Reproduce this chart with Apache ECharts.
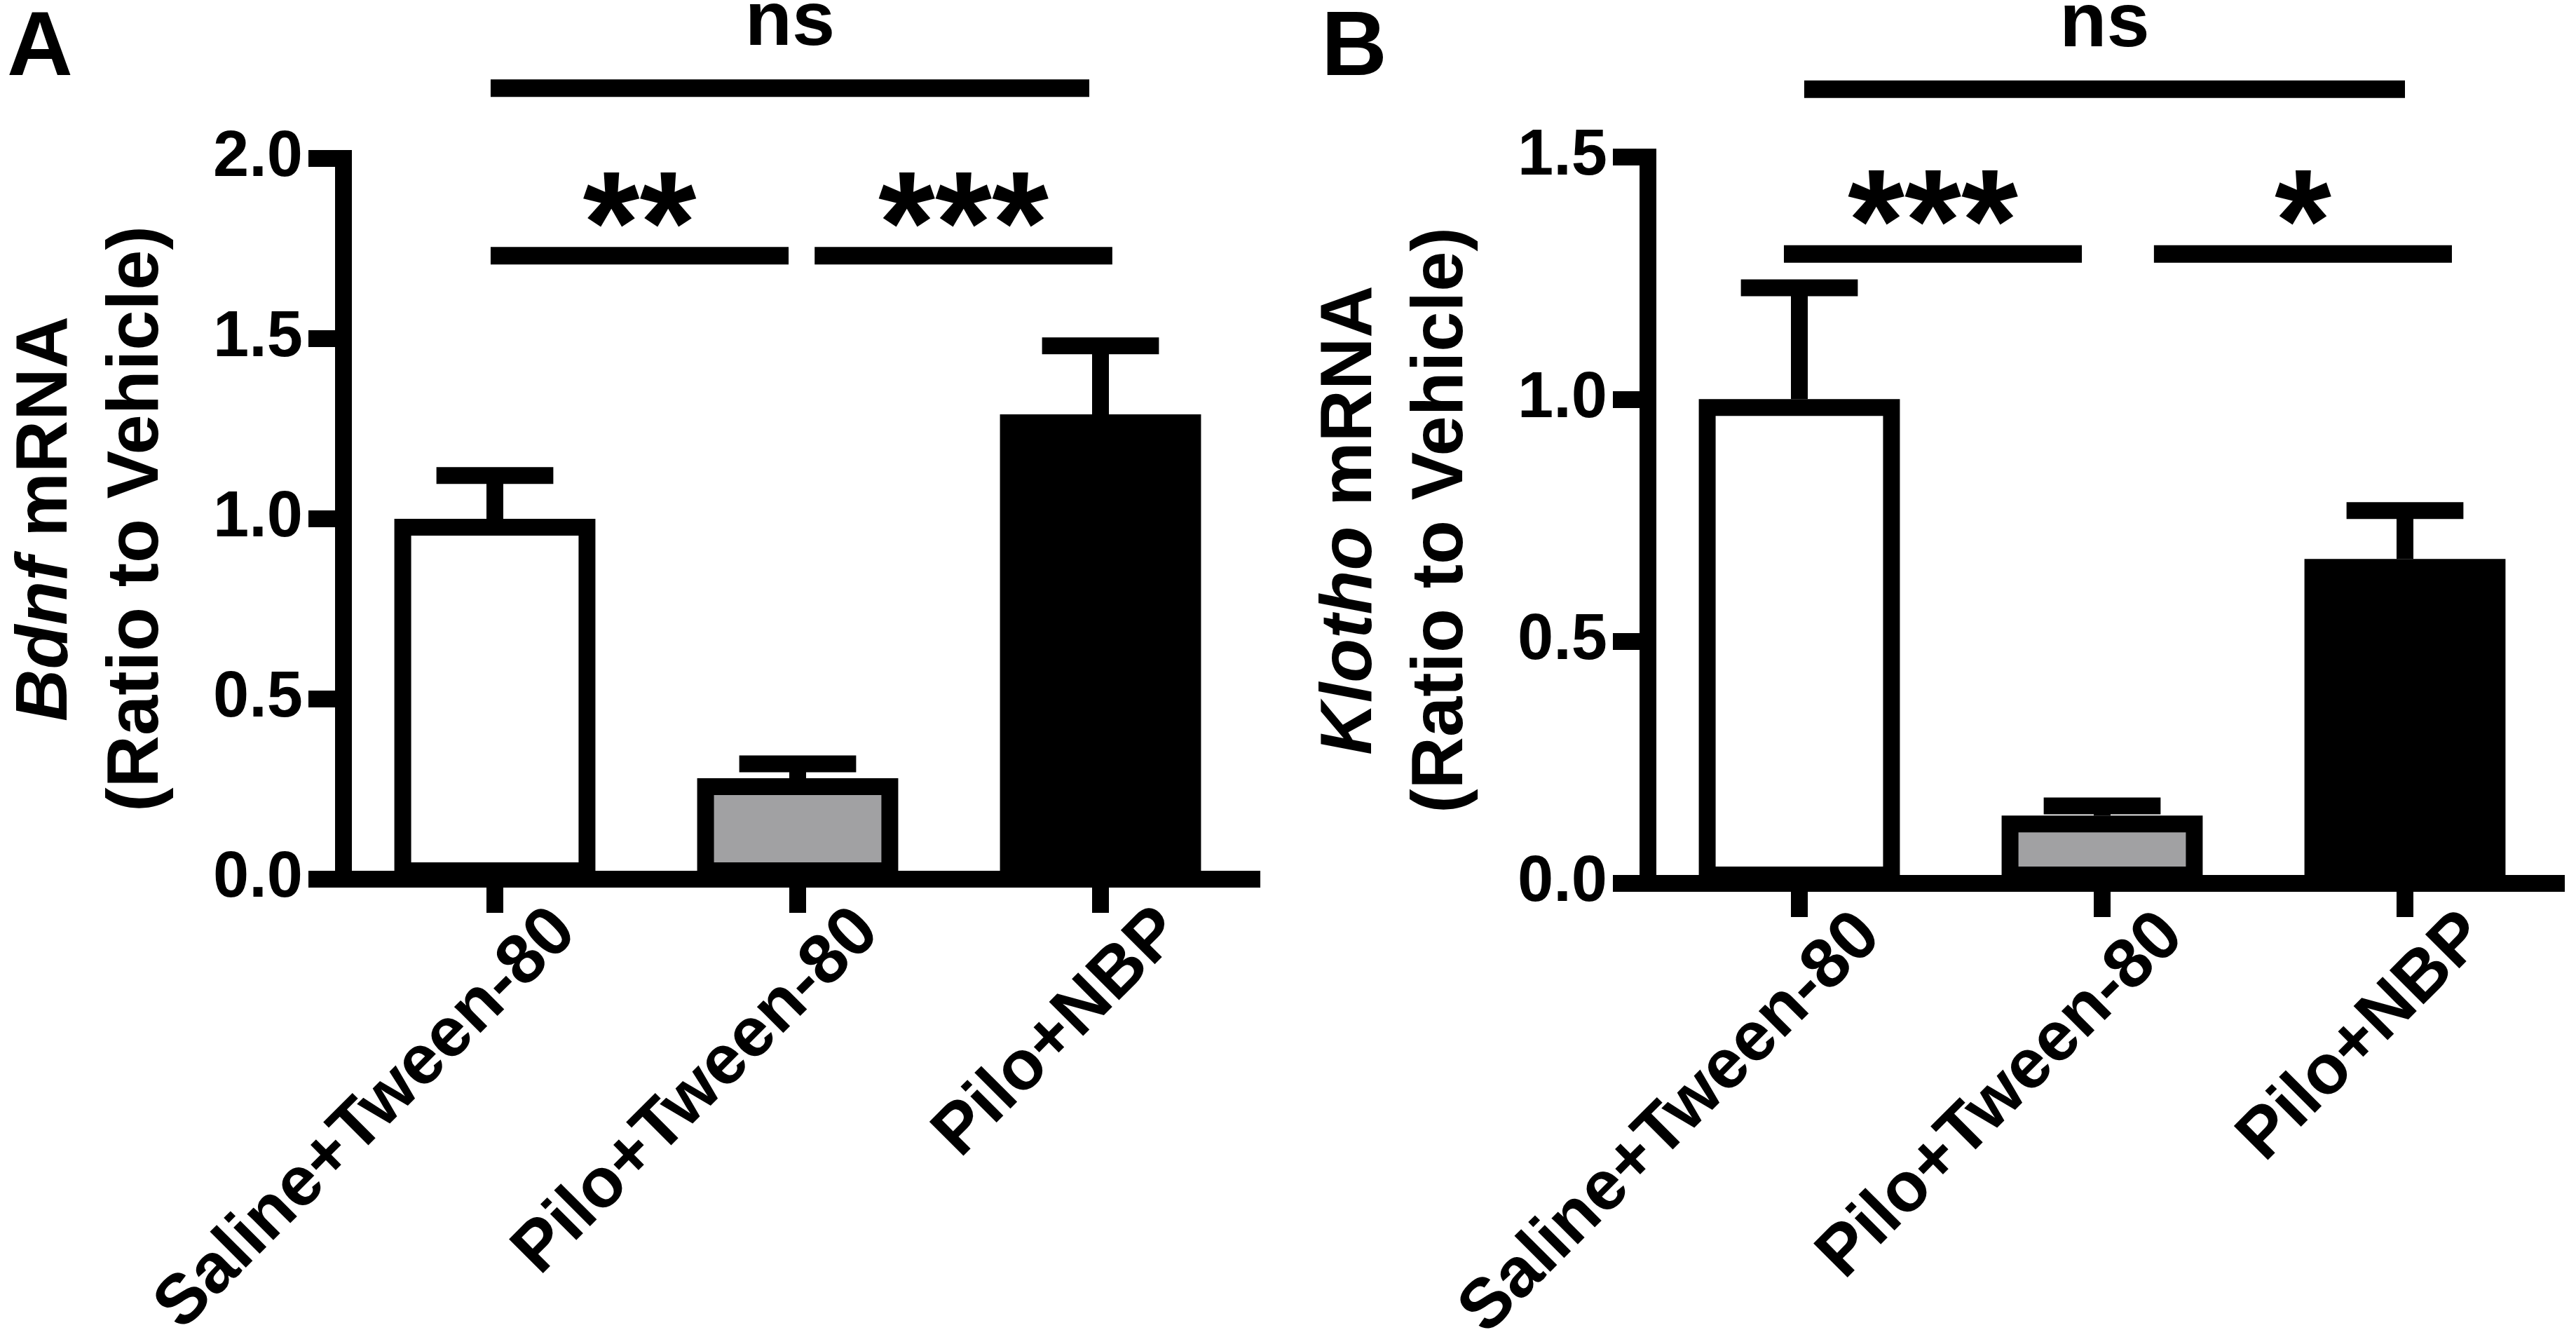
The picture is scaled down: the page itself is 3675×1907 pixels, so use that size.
<!DOCTYPE html>
<html>
<head>
<meta charset="utf-8">
<title>Bdnf / Klotho mRNA</title>
<script src="https://cdn.jsdelivr.net/npm/echarts@6/dist/echarts.min.js"></script>
<style>
  html, body { margin: 0; padding: 0; background: #fff; }
  #main { width: 3675px; height: 1907px; }
</style>
</head>
<body>
<div id="main"></div>
<script>
// groups on the x axis (same in both panels)
var groups = ['Saline+Tween-80', 'Pilo+Tween-80', 'Pilo+NBP'];
var barColors = ['#ffffff', '#a1a1a3', '#000000'];

// panel A - Bdnf
var bdnfMean = [1.00, 0.28, 1.29];
var bdnfSem = [0.12, 0.04, 0.19];
var bdnfTicks = [0, 0.5, 1.0, 1.5, 2.0];
// significance bars: text, start / end (in category units), height
var bdnfSigText = ['ns', '**', '***'];
var bdnfSigFrom = [-0.014, -0.014, 1.056];
var bdnfSigTo = [1.963, 0.970, 2.039];
var bdnfSigY = [2.195, 1.73, 1.73];

// panel B - Klotho
var klothoMean = [1.00, 0.14, 0.67];
var klothoSem = [0.23, 0.02, 0.10];
var klothoTicks = [0, 0.5, 1.0, 1.5];
var klothoSigText = ['ns', '***', '*'];
var klothoSigFrom = [0.016, -0.051, 1.171];
var klothoSigTo = [2.0, 0.933, 2.155];
var klothoSigY = [1.64, 1.30, 1.30];

var FONT = '"Liberation Sans", Arial, Helvetica, sans-serif';
var LW = 24;

function makeXAxis(gi) {
    return {
        type: 'category',
        gridIndex: gi,
        data: groups,
        axisLine: { show: true, lineStyle: { color: '#000', width: LW, cap: 'square' } },
        axisTick: { show: true, alignWithLabel: true, length: 48, lineStyle: { color: '#000', width: LW } },
        axisLabel: {
            interval: 0,
            hideOverlap: false,
            rotate: 45,
            margin: -41,
            color: '#000',
            fontFamily: FONT,
            fontWeight: 'bold',
            fontSize: 100,
            // tall line box pushes the rotated text down-right, clear of the ticks
            lineHeight: 284,
            verticalAlign: 'top'
        },
        splitLine: { show: false }
    };
}

function makeYAxis(gi, ticks, gene) {
    return {
        type: 'value',
        gridIndex: gi,
        min: ticks[0],
        max: ticks[ticks.length - 1],
        interval: ticks[1] - ticks[0],
        axisLine: { show: true, lineStyle: { color: '#000', width: LW, cap: 'square' } },
        axisTick: { show: true, length: 50, lineStyle: { color: '#000', width: LW } },
        axisLabel: {
            margin: 58,
            color: '#000',
            fontFamily: FONT,
            fontWeight: 'bold',
            fontSize: 92,
            formatter: function (v) { return v.toFixed(1); }
        },
        splitLine: { show: false },
        name: '{i|' + gene + '}{n| mRNA}\n{n|(Ratio to Vehicle)}',
        nameLocation: 'middle',
        nameRotate: 90,
        nameGap: 228,
        nameTextStyle: {
            color: '#000',
            rich: {
                i: { fontFamily: FONT, fontStyle: 'italic', fontWeight: 'bold', fontSize: 103, lineHeight: 130, color: '#000' },
                n: { fontFamily: FONT, fontWeight: 'bold', fontSize: 103, lineHeight: 130, color: '#000' }
            }
        }
    };
}

function bars(means, gi) {
    return {
        type: 'bar',
        xAxisIndex: gi,
        yAxisIndex: gi,
        barWidth: '66.4%',
        z: 3,
        silent: true,
        itemStyle: { borderColor: '#000', borderWidth: LW },
        data: means.map(function (m, i) {
            return { value: m, itemStyle: { color: barColors[i] } };
        })
    };
}

// error bar = stem from the mean up to mean + sem, and a cap
function errorBars(means, sems, gi) {
    return {
        type: 'custom',
        xAxisIndex: gi,
        yAxisIndex: gi,
        z: 4,
        silent: true,
        clip: false,
        data: means.map(function (m, i) { return [i, m, m + sems[i]]; }),
        renderItem: function (params, api) {
            var base = api.coord([api.value(0), api.value(1)]);
            var top = api.coord([api.value(0), api.value(2)]);
            var half = api.size([1, 0])[0] * 0.193;
            return {
                type: 'group',
                children: [
                    { type: 'line', shape: { x1: base[0], y1: base[1], x2: top[0], y2: top[1] },
                      style: { stroke: '#000', lineWidth: LW } },
                    { type: 'line', shape: { x1: top[0] - half, y1: top[1], x2: top[0] + half, y2: top[1] },
                      style: { stroke: '#000', lineWidth: LW } }
                ]
            };
        }
    };
}

// horizontal comparison bars with their significance text
function sigBars(texts, from, to, ys, gi) {
    return {
        type: 'custom',
        xAxisIndex: gi,
        yAxisIndex: gi,
        z: 4,
        silent: true,
        clip: false,
        data: ys.map(function (y) { return [0, y]; }),
        renderItem: function (params, api) {
            var i = params.dataIndex;
            var band = api.size([1, 0])[0];
            var p = api.coord([0, ys[i]]);
            var x1 = p[0] + from[i] * band;
            var x2 = p[0] + to[i] * band;
            var isStar = texts[i] !== 'ns';
            return {
                type: 'group',
                children: [
                    { type: 'line', shape: { x1: x1, y1: p[1], x2: x2, y2: p[1] },
                      style: { stroke: '#000', lineWidth: 25 } },
                    { type: 'text', x: (x1 + x2) / 2, y: p[1] - (isStar ? 33 : 92),
                      style: {
                          text: texts[i],
                          fill: '#000',
                          font: 'bold ' + (isStar ? 208 : 110) + 'px ' + FONT,
                          align: 'center',
                          verticalAlign: 'middle'
                      } }
                ]
            };
        }
    };
}

var chart = echarts.init(document.getElementById('main'));
var option = {
    animation: false,
    backgroundColor: '#ffffff',
    grid: [
        { left: 490, top: 226, width: 1296, height: 1028, outerBoundsMode: 'none' },
        { left: 2351, top: 224, width: 1296, height: 1036, outerBoundsMode: 'none' }
    ],
    xAxis: [makeXAxis(0), makeXAxis(1)],
    yAxis: [makeYAxis(0, bdnfTicks, 'Bdnf'), makeYAxis(1, klothoTicks, 'Klotho')],
    graphic: [
        { type: 'text', left: 10, top: 6, style: { text: 'A', fill: '#000', font: 'bold 130px ' + FONT } },
        { type: 'text', left: 1885, top: 6, style: { text: 'B', fill: '#000', font: 'bold 130px ' + FONT } }
    ],
    series: [
        bars(bdnfMean, 0),
        errorBars(bdnfMean, bdnfSem, 0),
        sigBars(bdnfSigText, bdnfSigFrom, bdnfSigTo, bdnfSigY, 0),
        bars(klothoMean, 1),
        errorBars(klothoMean, klothoSem, 1),
        sigBars(klothoSigText, klothoSigFrom, klothoSigTo, klothoSigY, 1)
    ]
};
chart.setOption(option);
</script>
</body>
</html>
